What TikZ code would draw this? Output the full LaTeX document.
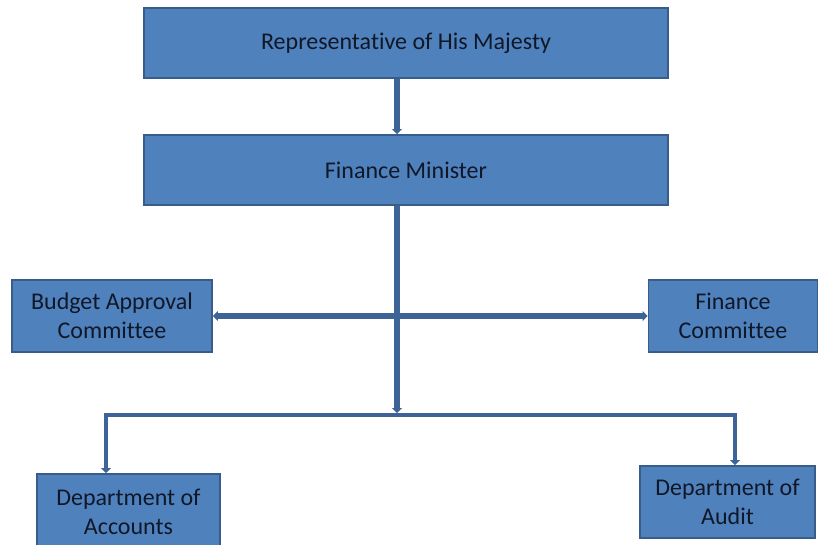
\documentclass[tikz,border=0pt]{standalone}
\usepackage{fontspec}
\setmainfont[Ligatures=NoCommon]{Carlito}
\usetikzlibrary{arrows.meta}
\definecolor{boxfill}{HTML}{4F81BD}
\definecolor{boxedge}{HTML}{385D8A}
\definecolor{wire}{HTML}{3E6497}
\definecolor{ink}{HTML}{101828}
\begin{document}
\begin{tikzpicture}[x=1pt,y=-1pt,
  orgbox/.style={draw=boxedge,line width=1.8pt,fill=boxfill,text=ink,
    font=\fontsize{24}{29}\selectfont,align=center,inner sep=0pt},
  wireline/.style={draw=wire,line width=5.5pt},
  tip/.style={-{Triangle[width=10pt,length=5pt]}}]
\useasboundingbox (0,0) rectangle (819,544);
% boxes
\node[orgbox,minimum width=524pt,minimum height=70pt] (rep) at (406,43) {Representative of His Majesty};
\node[orgbox,minimum width=524pt,minimum height=70pt] (fm) at (406,170) {Finance Minister};
\node[orgbox,minimum width=200pt,minimum height=72pt] (bac) at (112,316) {Budget Approval\\Committee};
\node[orgbox,minimum width=169pt,minimum height=72pt] (fc) at (733,316) {Finance\\Committee};
\node[orgbox,minimum width=183pt,minimum height=76pt] (acc) at (128.5,512) {Department of\\Accounts};
\node[orgbox,minimum width=175pt,minimum height=72pt] (aud) at (727.5,502) {Department of\\Audit};
% junction points
\coordinate (spine) at (397,0);
\coordinate (barL) at (106,415);
\coordinate (barR) at (735,415);
\coordinate (barM) at (397,413);
% connectors
\draw[wireline,tip] (rep.south -| spine) -- (fm.north -| spine);
\draw[wireline,tip] (fm.south -| spine) -- (barM);
\draw[wireline,{Triangle[width=10pt,length=5pt]}-{Triangle[width=10pt,length=5pt]}] (bac.east) -- (fc.west);
\draw[wireline,line width=4.5pt] ([yshift=-3pt]barL) -- (barL) -- (barR) -- ([yshift=-3pt]barR);
\draw[wireline,line width=4.5pt,tip] ([yshift=-3pt]barL) -- (acc.north -| barL);
\draw[wireline,line width=4.5pt,tip] ([yshift=-3pt]barR) -- (aud.north -| barR);
\end{tikzpicture}
\end{document}
